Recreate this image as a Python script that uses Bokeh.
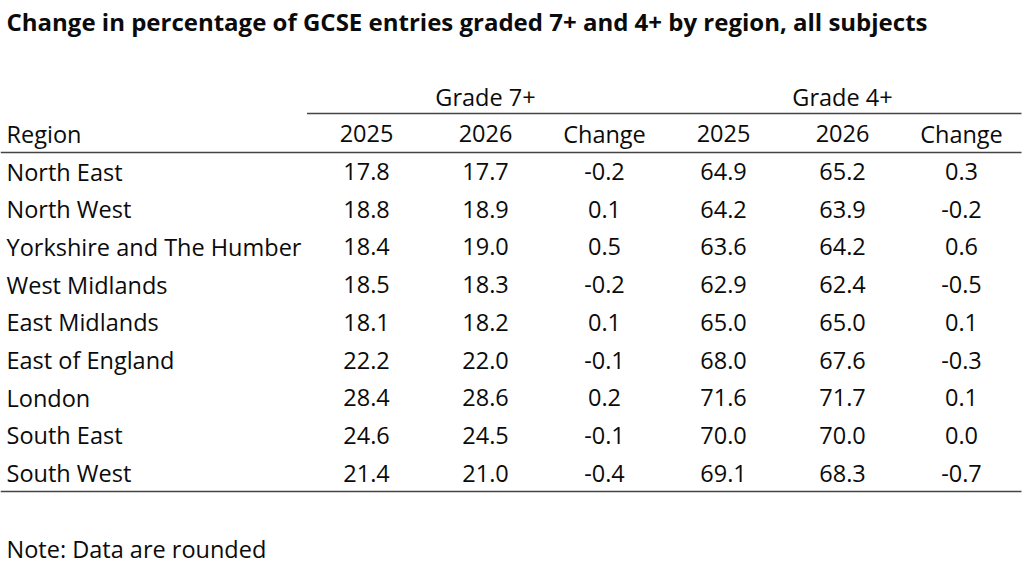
from bokeh.core.properties import value
from bokeh.embed import file_html
from bokeh.models import ColumnDataSource, Range1d
from bokeh.plotting import figure
from bokeh.resources import INLINE

#-------------- data ----------#
title = "Change in percentage of GCSE entries graded 7+ and 4+ by region, all subjects"
note = "Note: Data are rounded"
groups = ["Grade 7+", "Grade 4+"]
columns = ["2025", "2026", "Change", "2025", "2026", "Change"]
regions = ["North East", "North West", "Yorkshire and The Humber", "West Midlands",
           "East Midlands", "East of England", "London", "South East", "South West"]
g7_2025 = [17.8, 18.8, 18.4, 18.5, 18.1, 22.2, 28.4, 24.6, 21.4]
g7_2026 = [17.7, 18.9, 19.0, 18.3, 18.2, 22.0, 28.6, 24.5, 21.0]
g7_change = [-0.2, 0.1, 0.5, -0.2, 0.1, -0.1, 0.2, -0.1, -0.4]
g4_2025 = [64.9, 64.2, 63.6, 62.9, 65.0, 68.0, 71.6, 70.0, 69.1]
g4_2026 = [65.2, 63.9, 64.2, 62.4, 65.0, 67.6, 71.7, 70.0, 68.3]
g4_change = [0.3, -0.2, 0.6, -0.5, 0.1, -0.3, 0.1, 0.0, -0.7]
#-------------------------------#

FONT = value("Open Sans")
BODY = "23.5px"
INK = "#0b0b0b"
RULE = "#444444"

# layout (page pixels)
left = 6
col0, col_step = 366, 119          # centre of first number column
row0, row_step = 171, 37.7         # centre of first data row
head_y, group_y = 133, 96

p = figure(width=1024, height=567, output_backend="svg", toolbar_location=None,
           x_range=Range1d(0, 1024), y_range=Range1d(567, 0),
           min_border=0, outline_line_color=None)
p.axis.visible = False
p.grid.visible = False

# title and note
p.text(x=[left], y=[21], text=[title], text_font=FONT, text_font_style="bold",
       text_font_size="24px", text_baseline="middle", text_align="left", text_color=INK)
p.text(x=[left], y=[548], text=[note], text_font=FONT,
       text_font_size=BODY, text_baseline="middle", text_align="left", text_color=INK)

# group headers
col_x = [col0 + col_step * i for i in range(len(columns))]
group_x = [col_x[1], col_x[4]]
p.text(x=group_x, y=[group_y] * 2, text=groups, text_font=FONT, text_font_size=BODY,
       text_baseline="middle", text_align="center", text_color=INK)

# column headers
p.text(x=[left], y=[head_y], text=["Region"], text_font=FONT, text_font_size=BODY,
       text_baseline="middle", text_align="left", text_color=INK)
p.text(x=col_x, y=[head_y] * len(columns), text=columns, text_font=FONT, text_font_size=BODY,
       text_baseline="middle", text_align="center", text_color=INK)

# rules
rule_start = col_x[0] - col_step / 2
p.segment(x0=[rule_start, 0, 0], x1=[1021] * 3,
          y0=[113, 152, 491], y1=[113, 152, 491], line_color=RULE, line_width=1.5)

# body
row_y = [row0 + row_step * i for i in range(len(regions))]
p.text(x=[left] * len(regions), y=row_y, text=regions, text_font=FONT, text_font_size=BODY,
       text_baseline="middle", text_align="left", text_color=INK)

series = [g7_2025, g7_2026, g7_change, g4_2025, g4_2026, g4_change]
xs, ys, labels = [], [], []
for x, vals in zip(col_x, series):
    for y, v in zip(row_y, vals):
        xs.append(x)
        ys.append(y)
        labels.append("%.1f" % v)
src = ColumnDataSource(data=dict(x=xs, y=ys, label=labels))
p.text(x="x", y="y", text="label", source=src, text_font=FONT, text_font_size=BODY,
       text_baseline="middle", text_align="center", text_color=INK)

open("out.html", "w").write(file_html(p, INLINE))
